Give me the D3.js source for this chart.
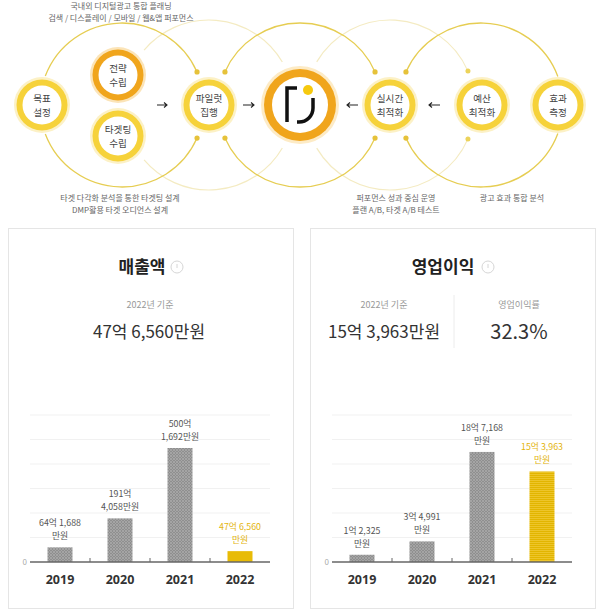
<!DOCTYPE html>
<html>
<head>
<meta charset="utf-8">
<script src="https://cdn.jsdelivr.net/npm/d3@7"></script>
<style>
  body { margin: 0; background: #fff; }
  svg { display: block; font-family: "Noto Sans CJK KR", "Noto Sans", sans-serif; }
</style>
</head>
<body>
<svg id="chart" width="600" height="615"></svg>
<script>
// process diagram text
var steps = [["목표", "설정"], ["전략", "수립"], ["타겟팅", "수립"], ["파일럿", "집행"],
             ["실시간", "최적화"], ["예산", "최적화"], ["효과", "측정"]];
var topNotes = ["국내외 디지털광고 통합 플래닝", "검색 / 디스플레이 / 모바일 / 웹&앱 퍼포먼스"];
var bottomNotes = [["타겟 다각화 분석을 통한 타겟팅 설계", "DMP활용 타겟 오디언스 설계"],
                   ["퍼포먼스 성과 중심 운영", "플랜 A/B, 타겟 A/B 테스트"],
                   ["광고 효과 통합 분석"]];

// financials, in 억원
var years = ["2019", "2020", "2021", "2022"];
var revenue = [64.1688, 191.4058, 500.1692, 47.656];
var revenueLabels = [["64억 1,688", "만원"], ["191억", "4,058만원"], ["500억", "1,692만원"], ["47억 6,560", "만원"]];
var profit = [1.2325, 3.4991, 18.7168, 15.3963];
var profitLabels = [["1억 2,325", "만원"], ["3억 4,991", "만원"], ["18억 7,168", "만원"], ["15억 3,963", "만원"]];

var revenueCard = ["매출액", "2022년 기준", "47억 6,560만원"];
var profitCard = ["영업이익", "2022년 기준", "15억 3,963만원", "영업이익률", "32.3%"];

var svg = d3.select("#chart");
var defs = svg.append("defs");

// ---------- top diagram ----------
var yellow = "#f6d23a", orange = "#f0a51c";
var nodeY = 105;
var stepPos = [[42, nodeY], [118, 75], [118, 136], [209, nodeY], [390, nodeY], [482, nodeY], [558, nodeY]];
var logo = { x: 300, y: nodeY };

function arcPath(cx, cy, r, a0, a1) {
  var p = d3.path();
  p.arc(cx, cy, r, a0, a1);
  return p.toString();
}

var diagram = svg.append("g");

// faint rings
var faint = [
  { cx: 209, cy: nodeY, r: 85, parts: [[-2.44, -0.53], [0.53, 2.44]] },
  { cx: 390, cy: nodeY, r: 85, parts: [[-2.61, -0.41], [0.41, 2.61]], dots: true }
];
faint.forEach(f => {
  f.parts.forEach(a => {
    diagram.append("path")
        .attr("d", arcPath(f.cx, f.cy, f.r, a[0], a[1]))
        .attr("fill", "none")
        .attr("stroke", "#f4ebc2")
        .attr("stroke-width", 1.2);
    if (f.dots) {
      var end = a[0] < 0 ? a[1] : a[0];
      diagram.append("circle")
          .attr("cx", f.cx + f.r * Math.cos(end))
          .attr("cy", f.cy + f.r * Math.sin(end))
          .attr("r", 2.5)
          .attr("fill", "#ecd35a");
    }
  });
});

// strong rings, with dot ends near the center
var strong = [
  { cx: 122, cy: nodeY, r: 82, parts: [[-2.78, -0.415], [0.415, 2.78]], dotEnd: "right" },
  { cx: 300, cy: nodeY, r: 82, parts: [[-2.727, -0.415], [0.415, 2.727]], dotEnd: "both" },
  { cx: 481, cy: nodeY, r: 82, parts: [[-2.727, -0.356], [0.356, 2.727]], dotEnd: "left" }
];
strong.forEach(s => {
  s.parts.forEach(a => {
    diagram.append("path")
        .attr("d", arcPath(s.cx, s.cy, s.r, a[0], a[1]))
        .attr("fill", "none")
        .attr("stroke", "#e6cd52")
        .attr("stroke-width", 1.3);
    var ends = [];
    var leftEnd = a[0] < 0 ? a[0] : a[1];
    var rightEnd = a[0] < 0 ? a[1] : a[0];
    if (s.dotEnd == "right" || s.dotEnd == "both") ends.push(rightEnd);
    if (s.dotEnd == "left" || s.dotEnd == "both") ends.push(leftEnd);
    ends.forEach(e => {
      diagram.append("circle")
          .attr("cx", s.cx + s.r * Math.cos(e))
          .attr("cy", s.cy + s.r * Math.sin(e))
          .attr("r", 2.6)
          .attr("fill", "#e6c23a");
    });
  });
});

// step nodes
var nodes = diagram.selectAll(".step")
  .data(steps)
  .enter()
  .append("g")
    .classed("step", true)
    .attr("transform", (d, i) => `translate(${stepPos[i][0]}, ${stepPos[i][1]})`);

nodes.append("circle").attr("r", 28).attr("fill", (d, i) => i == 1 ? "#fbe4b8" : "#fcf1c6");
nodes.append("circle").attr("r", 25.5).attr("fill", (d, i) => i == 1 ? orange : yellow);
nodes.append("circle").attr("r", 19.5).attr("fill", "#fff");
nodes.append("text")
    .attr("text-anchor", "middle")
    .style("font-size", "9.6px")
    .style("fill", "#444")
  .selectAll("tspan")
  .data(d => d)
  .enter()
  .append("tspan")
    .attr("x", 0)
    .attr("y", (d, j) => j == 0 ? -3 : 11)
    .text(d => d);

// center logo
var lg = diagram.append("g").attr("transform", `translate(${logo.x}, ${logo.y})`);
lg.append("circle").attr("r", 39).attr("fill", "#fdebc6");
lg.append("circle").attr("r", 36).attr("fill", orange);
lg.append("circle").attr("r", 28).attr("fill", "#fff");
lg.append("path")
    .attr("d", "M-3,-17 H-13 V17")
    .attr("fill", "none")
    .attr("stroke", "#111")
    .attr("stroke-width", 3.5);
lg.append("path")
    .attr("d", "M13,-7 V3 A14,14 0 0 1 -1,17 H-3")
    .attr("fill", "none")
    .attr("stroke", "#111")
    .attr("stroke-width", 3.5);
lg.append("circle").attr("cx", 8).attr("cy", -15).attr("r", 5).attr("fill", "#f6c90e");

// arrows
var arrows = [[157, 167], [243, 254], [358, 347], [440, 429]];
arrows.forEach(a => {
  var dir = a[1] > a[0] ? 1 : -1;
  diagram.append("path")
      .attr("d", `M${a[0]},${nodeY} H${a[1]} M${a[1] - 3 * dir},${nodeY - 2.5} L${a[1]},${nodeY} L${a[1] - 3 * dir},${nodeY + 2.5}`)
      .attr("fill", "none")
      .attr("stroke", "#222")
      .attr("stroke-width", 1.1);
});

// notes
function notes(lines, x, y) {
  diagram.append("text")
      .attr("text-anchor", "middle")
      .style("font-size", "8px")
      .style("fill", "#666")
    .selectAll("tspan")
    .data(lines)
    .enter()
    .append("tspan")
      .attr("x", x)
      .attr("y", (d, i) => y + i * 11.6)
      .text(d => d);
}
notes(topNotes, 121, 9);
notes(bottomNotes[0], 120, 201);
notes(bottomNotes[1], 396, 201);
notes(bottomNotes[2], 512, 201);

// ---------- cards ----------
defs.append("pattern")
    .attr("id", "hatch")
    .attr("width", 3).attr("height", 3)
    .attr("patternUnits", "userSpaceOnUse")
  .call(p => {
    p.append("rect").attr("width", 3).attr("height", 3).attr("fill", "#8f8f8f");
    p.append("path").attr("d", "M0,3 L3,0 M0,0 L3,3").attr("stroke", "#a9a9a9").attr("stroke-width", 0.8);
  });
defs.append("pattern")
    .attr("id", "stripe")
    .attr("width", 4).attr("height", 2)
    .attr("patternUnits", "userSpaceOnUse")
  .call(p => {
    p.append("rect").attr("width", 4).attr("height", 2).attr("fill", "#e2b500");
    p.append("rect").attr("width", 4).attr("height", 1).attr("fill", "#edc52a");
  });

function infoIcon(g, x, y) {
  g.append("circle").attr("cx", x).attr("cy", y).attr("r", 6)
      .attr("fill", "none").attr("stroke", "#d6d6d6").attr("stroke-width", 1);
  g.append("line").attr("x1", x).attr("x2", x).attr("y1", y - 3).attr("y2", y + 1)
      .attr("stroke", "#d6d6d6").attr("stroke-width", 1);
}

function drawCard(x0) {
  var g = svg.append("g");
  g.append("rect")
      .attr("x", x0 + 0.5).attr("y", 228.5)
      .attr("width", 285).attr("height", 380)
      .attr("fill", "#fff")
      .attr("stroke", "#e5e5e5");
  return g;
}

function drawBars(g, values, labels, left, maxVal, lastFill) {
  var x = d3.scaleBand().domain(years).range([left, left + 240]);
  var y = d3.scaleLinear().domain([0, maxVal]).range([562, 415]);
  var barW = 25;

  // grid
  g.selectAll(null)
    .data(d3.range(1, 7).map(i => maxVal * i / 6))
    .enter()
    .append("line")
      .attr("x1", left).attr("x2", left + 240)
      .attr("y1", d => y(d)).attr("y2", d => y(d))
      .attr("stroke", "#f1f1f1");

  g.selectAll(null)
    .data(values)
    .enter()
    .append("rect")
      .attr("x", (d, i) => x(years[i]) + (x.bandwidth() - barW) / 2)
      .attr("y", d => y(d))
      .attr("width", barW)
      .attr("height", d => y(0) - y(d))
      .attr("fill", (d, i) => i == 3 ? lastFill : "url(#hatch)");

  // labels above bars
  g.selectAll(null)
    .data(values)
    .enter()
    .append("text")
      .attr("text-anchor", "middle")
      .style("font-size", "8.8px")
      .style("fill", (d, i) => i == 3 ? "#e3b40c" : "#555")
    .each(function(v, i) {
      d3.select(this).selectAll("tspan")
        .data(labels[i])
        .enter()
        .append("tspan")
          .attr("x", x(years[i]) + x.bandwidth() / 2)
          .attr("y", (t, j) => y(v) - 21 + j * 13)
          .text(t => t);
    });

  // axis
  g.append("line")
      .attr("x1", left).attr("x2", left + 240)
      .attr("y1", y(0)).attr("y2", y(0))
      .attr("stroke", "#666").attr("stroke-width", 1.5);
  g.selectAll(null)
    .data(years.slice(1))
    .enter()
    .append("line")
      .attr("x1", d => x(d)).attr("x2", d => x(d))
      .attr("y1", y(0) - 4).attr("y2", y(0))
      .attr("stroke", "#666");
  g.append("text")
      .attr("x", left - 3).attr("y", y(0)).attr("dy", "0.35em")
      .attr("text-anchor", "end")
      .style("font-size", "8px").style("fill", "#aaa")
      .text("0");
  g.selectAll(null)
    .data(years)
    .enter()
    .append("text")
      .attr("x", d => x(d) + x.bandwidth() / 2)
      .attr("y", 584)
      .attr("text-anchor", "middle")
      .style("font-family", "'Noto Sans', sans-serif")
      .style("font-size", "12.5px")
      .style("font-weight", 700)
      .style("fill", "#333")
      .text(d => d);
}

// revenue card
var left = drawCard(8);
left.append("text")
    .attr("x", 142).attr("y", 273)
    .attr("text-anchor", "middle")
    .style("font-size", "17px").style("font-weight", 700).style("fill", "#222")
    .text(revenueCard[0]);
infoIcon(left, 177, 267);
left.append("text")
    .attr("x", 150).attr("y", 308)
    .attr("text-anchor", "middle")
    .style("font-size", "9px").style("fill", "#999")
    .text(revenueCard[1]);
left.append("text")
    .attr("x", 149).attr("y", 338)
    .attr("text-anchor", "middle")
    .style("font-size", "17px").style("fill", "#333")
    .text(revenueCard[2]);
drawBars(left, revenue, revenueLabels, 30, 645, "#e8bb06");

// profit card
var right = drawCard(310);
right.append("text")
    .attr("x", 443).attr("y", 273)
    .attr("text-anchor", "middle")
    .style("font-size", "17px").style("font-weight", 700).style("fill", "#222")
    .text(profitCard[0]);
infoIcon(right, 488, 267);
right.append("text")
    .attr("x", 384).attr("y", 308)
    .attr("text-anchor", "middle")
    .style("font-size", "9px").style("fill", "#999")
    .text(profitCard[1]);
right.append("text")
    .attr("x", 384).attr("y", 338)
    .attr("text-anchor", "middle")
    .style("font-size", "17px").style("fill", "#333")
    .text(profitCard[2]);
right.append("line")
    .attr("x1", 454).attr("x2", 454).attr("y1", 295).attr("y2", 348)
    .attr("stroke", "#ececec");
right.append("text")
    .attr("x", 519).attr("y", 308)
    .attr("text-anchor", "middle")
    .style("font-size", "9px").style("fill", "#999")
    .text(profitCard[3]);
right.append("text")
    .attr("x", 519).attr("y", 339)
    .attr("text-anchor", "middle")
    .style("font-size", "20px").style("fill", "#333")
    .text(profitCard[4]);
drawBars(right, profit, profitLabels, 332, 25, "url(#stripe)");
</script>
</body>
</html>
